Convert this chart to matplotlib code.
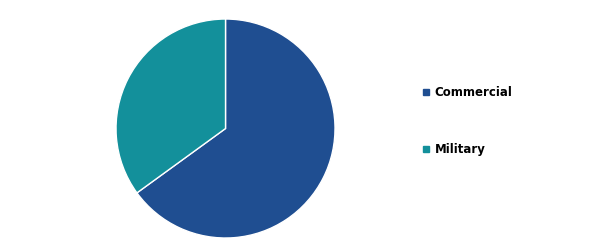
import matplotlib
matplotlib.use("Agg")
import matplotlib.pyplot as plt
from matplotlib.lines import Line2D

labels = ["Commercial", "Military"]
shares = [65, 35]
colors = ["#1F4E91", "#13909B"]

fig = plt.figure(figsize=(6.10, 2.48), dpi=100)
ax = fig.add_axes([0.1902, 0.0403, 0.359, 0.883])
ax.pie(shares, colors=colors, startangle=90, counterclock=False,
       wedgeprops={"edgecolor": "white", "linewidth": 1.0})
ax.set_xlim(-1, 1)
ax.set_ylim(-1, 1)
ax.set_aspect("equal")

handles = [Line2D([], [], marker="s", linestyle="none", markersize=5,
                  markerfacecolor=c, markeredgecolor=c) for c in colors]
leg = fig.legend(handles, labels, loc="upper left", bbox_to_anchor=(0.686, 0.672),
                 frameon=False, handlelength=0.55, handletextpad=0.4,
                 labelspacing=3.7, borderaxespad=0,
                 prop={"size": 8.5, "weight": "bold", "family": "DejaVu Sans"})

fig.savefig("out.png", dpi=100, facecolor="white")
